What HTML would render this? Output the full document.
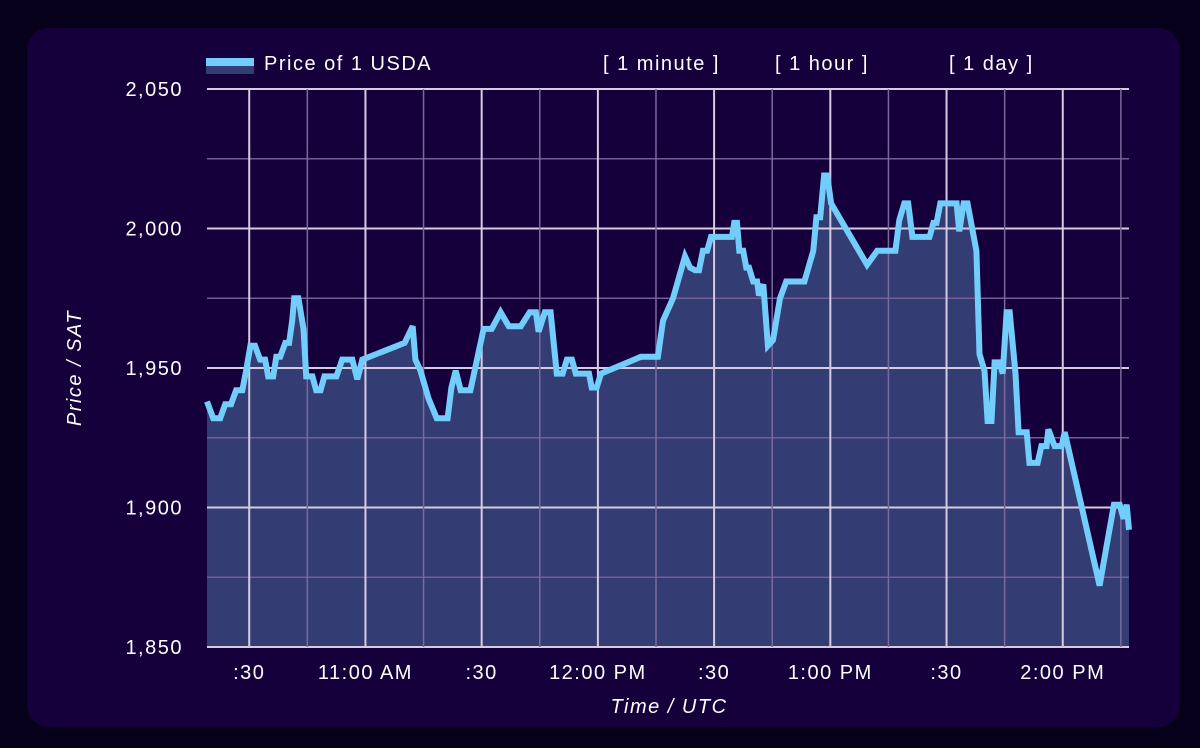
<!DOCTYPE html>
<html><head><meta charset="utf-8"><style>
html,body{margin:0;padding:0;background:#06001a;width:1200px;height:748px;overflow:hidden;font-family:"Liberation Sans",sans-serif}
#card{position:absolute;left:27px;top:28px;width:1153px;height:699px;background:#15003b;border-radius:22px}
svg{position:absolute;left:0;top:0}
text{letter-spacing:1.5px}
</style></head><body>
<div id="card"></div>
<svg id="chart" width="1200" height="748"></svg>
<script>
const times=[19.1,20.7,22.5,23.8,25.3,26.6,28.2,29.2,30.3,31.5,32.8,34.1,34.9,36.2,37.0,38.0,39.3,40.3,41.1,41.6,42.7,44.0,44.7,46.3,47.3,48.4,49.4,52.5,54.0,56.6,57.9,59.2,70.1,72.2,72.9,74.2,76.3,78.4,81.2,82.2,83.3,84.6,87.1,90.5,92.6,94.9,97.0,100.1,102.4,104.0,104.7,106.3,107.8,109.4,110.9,112.0,113.3,114.3,117.7,118.4,119.7,120.8,131.1,135.5,136.8,139.4,142.5,143.8,145.1,146.1,147.1,148.2,149.2,154.6,155.2,155.9,156.5,157.5,158.3,159.0,160.1,161.1,161.6,162.7,163.9,165.2,167.0,168.6,173.3,175.6,176.4,177.4,178.4,179.2,180.2,189.5,192.1,196.8,197.8,199.1,200.1,201.2,205.6,206.6,207.4,208.4,212.6,213.3,214.4,215.4,217.7,218.5,219.8,220.6,221.6,222.4,223.7,224.5,225.5,226.3,227.8,228.6,230.7,231.4,233.5,234.5,235.8,236.3,237.9,239.7,240.5,249.5,253.2,254.7,255.7,256.5,257.6];
const prices=[1938,1932,1932,1937,1937,1942,1942,1949,1958,1958,1953,1953,1947,1947,1954,1954,1959,1959,1967,1975,1975,1964,1947,1947,1942,1942,1947,1947,1953,1953,1946,1953,1959,1965,1953,1949,1939,1932,1932,1943,1949,1942,1942,1964,1964,1970,1965,1965,1970,1970,1963,1970,1970,1948,1948,1953,1953,1948,1948,1943,1943,1948,1954,1954,1967,1975,1990,1986,1985,1985,1992,1992,1997,1997,2002,2002,1992,1992,1986,1986,1981,1981,1976,1980,1958,1960,1975,1981,1981,1992,2004,2004,2019,2019,2009,1987,1992,1992,2003,2009,2009,1997,1997,2002,2002,2009,2009,1999,2009,2009,1992,1955,1949,1931,1931,1952,1952,1948,1970,1970,1948,1927,1927,1916,1916,1922,1922,1928,1922,1922,1927,1872,1901,1901,1896,1901,1892];
const yTicks=[1850,1900,1950,2000,2050];
const yTickLabels=["1,850","1,900","1,950","2,000","2,050"];
const xTicks=[30,60,90,120,150,180,210,240];
const xTickLabels=[":30","11:00 AM",":30","12:00 PM",":30","1:00 PM",":30","2:00 PM"];
const rangeButtons=["[ 1 minute ]","[ 1 hour ]","[ 1 day ]"];

const L=207,R=1129,T=89,B=647,tMin=19.1,tMax=257.1,vMin=1850,vMax=2050;
const xs=t=>L+(t-tMin)/(tMax-tMin)*(R-L);
const ys=v=>B-(v-vMin)/(vMax-vMin)*(B-T);
const svg=document.getElementById('chart');const NS='http://www.w3.org/2000/svg';
function mk(tag,at,parent){const e=document.createElementNS(NS,tag);for(const k in at)e.setAttribute(k,at[k]);(parent||svg).appendChild(e);return e;}

let d='M'+xs(times[0])+','+B;
times.forEach((t,i)=>{d+=' L'+Math.min(R,xs(t)).toFixed(1)+','+ys(prices[i]).toFixed(1);});
d+=' L'+R+','+B+' Z';
const area=mk('path',{d:d,fill:'#333d74'});



for(let v=vMin;v<=vMax;v+=25){const major=(v%50===0);
 const g=mk('line',{x1:L,x2:R,y1:ys(v),y2:ys(v),stroke:major?'#d6cce0':'#6f5f93','stroke-width':major?2:1.5});
 
 }
for(let t=15;t<=255;t+=15){if(t<tMin)continue;const major=(t%30===0);
 const g=mk('line',{x1:xs(t),x2:xs(t),y1:T,y2:B,stroke:major?'#d6cce0':'#7a6a9c','stroke-width':major?2:1.5});
 
 }

let ld='';times.forEach((t,i)=>{ld+=(i?' L':'M')+Math.min(R,xs(t)).toFixed(1)+','+ys(prices[i]).toFixed(1);});
const line=mk('path',{d:ld,fill:'none',stroke:'#72cdfb','stroke-width':6,'stroke-linejoin':'miter','stroke-miterlimit':3});



yTicks.forEach((v,i)=>{const e=mk('text',{x:183,y:ys(v)+7,'text-anchor':'end',fill:'#fff','font-size':20});e.textContent=yTickLabels[i];
 
 });
xTicks.forEach((t,i)=>{const e=mk('text',{x:xs(t),y:679,'text-anchor':'middle',fill:'#fff','font-size':20});e.textContent=xTickLabels[i];
 
 });

const yt=mk('text',{x:0,y:0,transform:'translate(81,368) rotate(-90)','text-anchor':'middle',fill:'#fff','font-size':20,'font-style':'italic'});yt.textContent='Price / SAT';


const xt=mk('text',{x:669,y:713,'text-anchor':'middle',fill:'#fff','font-size':20,'font-style':'italic'});xt.textContent='Time / UTC';



const lg=mk('g',{});


mk('rect',{x:206,y:58,width:48,height:8,fill:'#72cdfb'},lg);
mk('rect',{x:206,y:66,width:48,height:8,fill:'#333d74'},lg);
const lt=mk('text',{x:264,y:70,fill:'#fff','font-size':20},lg);lt.textContent='Price of 1 USDA';

const bx=[603,775,949];
rangeButtons.forEach((s,i)=>{const e=mk('text',{x:bx[i],y:70,fill:'#fff','font-size':20});e.textContent=s;
 
 });
</script>
</body></html>
